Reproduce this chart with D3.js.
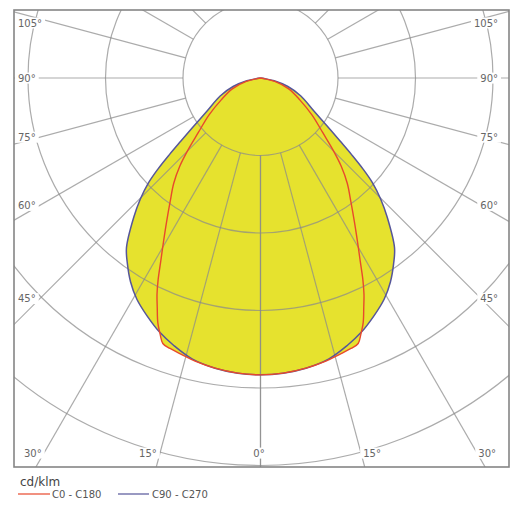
<!DOCTYPE html>
<html>
<head>
<meta charset="utf-8">
<script src="https://cdn.jsdelivr.net/npm/d3@7"></script>
<style>
  body { margin: 0; background: #fff; }
  text { font-family: "DejaVu Sans", Verdana, sans-serif; }
</style>
</head>
<body>
<script>
// rings of the polar grid (cd/klm) and angle tick labels
const rings = [100, 200, 300, 400, 500];
const spokeAngles = [0, 15, 30, 45, 60, 75, 90, 105, 120, 135, 150, 165, 180];
const labelAngles = [0, 15, 30, 45, 60, 75, 90, 105];

// C90 - C270 plane (same on both halves)
const c90Angles = [0, 4.4, 8.9, 13.7, 17.9, 21.6, 25.5, 29.2, 32.5, 35.6, 38.3, 42.3, 44.8, 46.9, 48.4, 49.9, 51.6, 54.2, 58.3, 66.0, 72.8, 78.3, 81.2, 90];
const c90Values = [383, 382, 379, 373, 363, 353, 340, 327, 312, 295, 279, 243, 220, 198, 177, 154, 131, 106, 81, 57, 37, 18, 6, 0];

// C0 - C180 plane
const c0Angles = [0, 4.4, 8.9, 13.0, 15.9, 18.5, 20.2, 21.4, 22.8, 24.2, 25.6, 26.9, 28.5, 30.6, 33.1, 36.1, 39.5, 42.5, 45.2, 48.7, 54.3, 60.9, 68.9, 76.4, 79.9, 90];
const c0Values = [383, 382, 379, 375, 371, 368, 365, 355, 342, 325, 309, 292, 270, 246, 222, 198, 176, 154, 132, 107, 82, 58, 39, 19, 6, 0];

const width = 524, height = 514;
const cx = 260.5, cy = 78;
const frame = {x0: 14, y0: 10, x1: 509, y1: 467};

const svg = d3.select('body').append('svg')
    .attr('width', width)
    .attr('height', height);

svg.append('clipPath').attr('id', 'frameclip')
  .append('rect')
    .attr('x', frame.x0).attr('y', frame.y0)
    .attr('width', frame.x1 - frame.x0).attr('height', frame.y1 - frame.y0);

const r = d3.scaleLinear().domain([0, 500]).range([0, 387.5]);
const toRad = d => d * Math.PI / 180;

const clipped = svg.append('g').attr('clip-path', 'url(#frameclip)');
const g = clipped.append('g').attr('transform', 'translate(' + cx + ',' + cy + ')');

// build full curve: right half (C0 / C90) then left half (C180 / C270), 0 deg points down
function curvePoints(angles, values) {
    const right = angles.map((a, i) => ({a: Math.PI - toRad(a), v: values[i]})).reverse();
    const left = angles.slice(1).map((a, i) => ({a: Math.PI + toRad(a), v: values[i + 1]}));
    return right.concat(left);
}

const radial = d3.lineRadial()
    .angle(d => d.a)
    .radius(d => r(d.v))
    .curve(d3.curveCatmullRom);

const c90 = curvePoints(c90Angles, c90Values);
const c0 = curvePoints(c0Angles, c0Values);

// fill
g.append('path').attr('d', radial(c90)).attr('fill', '#e6e22e');
g.append('path').attr('d', radial(c0)).attr('fill', '#e6e22e');

// grid
const grid = g.append('g')
    .attr('fill', 'none')
    .attr('stroke', '#8a8a8a')
    .attr('stroke-opacity', 0.72)
    .attr('stroke-width', 1.2);

grid.selectAll('circle')
  .data(rings)
  .join('circle')
    .attr('r', d => r(d));

spokeAngles.forEach(t => {
    [-1, 1].forEach(s => {
        const a = toRad(t);
        const dx = s * Math.sin(a), dy = Math.cos(a);
        grid.append('line')
            .attr('x1', dx * r(rings[0])).attr('y1', dy * r(rings[0]))
            .attr('x2', dx * 700).attr('y2', dy * 700);
    });
});

// outlines
g.append('path').attr('d', radial(c90))
    .attr('fill', 'none').attr('stroke', '#56569a').attr('stroke-width', 1.5);
g.append('path').attr('d', radial(c0))
    .attr('fill', 'none').attr('stroke', '#e8492c').attr('stroke-width', 1.4);

// frame
svg.append('rect')
    .attr('x', frame.x0).attr('y', frame.y0)
    .attr('width', frame.x1 - frame.x0).attr('height', frame.y1 - frame.y0)
    .attr('fill', 'none').attr('stroke', '#858585').attr('stroke-width', 1.6);

// angle labels, with white boxes that break the grid lines
const labels = svg.append('g');
labelAngles.forEach(t => {
    const sides = t === 0 ? [0] : [-1, 1];
    sides.forEach(s => {
        const a = toRad(t);
        let x, y, anchor;
        if (t >= 45) {
            const xl = s < 0 ? 40 : 481;
            const k = Math.abs(xl - cx) / Math.sin(a);
            y = cy + k * Math.cos(a);
            if (t > 90) y += 4;
            x = s < 0 ? 18 : 498;
            anchor = s < 0 ? 'start' : 'end';
        } else {
            const k = (450 - cy) / Math.cos(a);
            const xl = cx + s * k * Math.sin(a);
            y = 453;
            x = s < 0 ? xl - 4 : (s > 0 ? xl + 3 : xl - 1.5);
            anchor = s < 0 ? 'end' : (s > 0 ? 'start' : 'middle');
        }
        const lg = labels.append('g');
        const txt = lg.append('text')
            .attr('x', x).attr('y', y).attr('dy', '0.36em')
            .attr('text-anchor', anchor)
            .attr('font-size', 10)
            .attr('fill', '#666')
            .text(t + '°');
        const bb = txt.node().getBBox();
        lg.insert('rect', 'text')
            .attr('x', bb.x - 3).attr('y', bb.y)
            .attr('width', bb.width + 6).attr('height', bb.height)
            .attr('fill', '#fff');
    });
});

// legend
svg.append('text')
    .text('cd/klm')
    .attr('x', 20).attr('y', 486)
    .attr('font-size', 12)
    .attr('fill', '#444');

svg.append('line')
    .attr('x1', 18).attr('x2', 50).attr('y1', 494).attr('y2', 494)
    .attr('stroke', '#e8492c').attr('stroke-width', 1.2);
svg.append('text')
    .text('C0 - C180')
    .attr('x', 52).attr('y', 498)
    .attr('font-size', 10)
    .attr('fill', '#555');

svg.append('line')
    .attr('x1', 118).attr('x2', 149).attr('y1', 494).attr('y2', 494)
    .attr('stroke', '#56569a').attr('stroke-width', 1.2);
svg.append('text')
    .text('C90 - C270')
    .attr('x', 152).attr('y', 498)
    .attr('font-size', 10)
    .attr('fill', '#555');
</script>
</body>
</html>
